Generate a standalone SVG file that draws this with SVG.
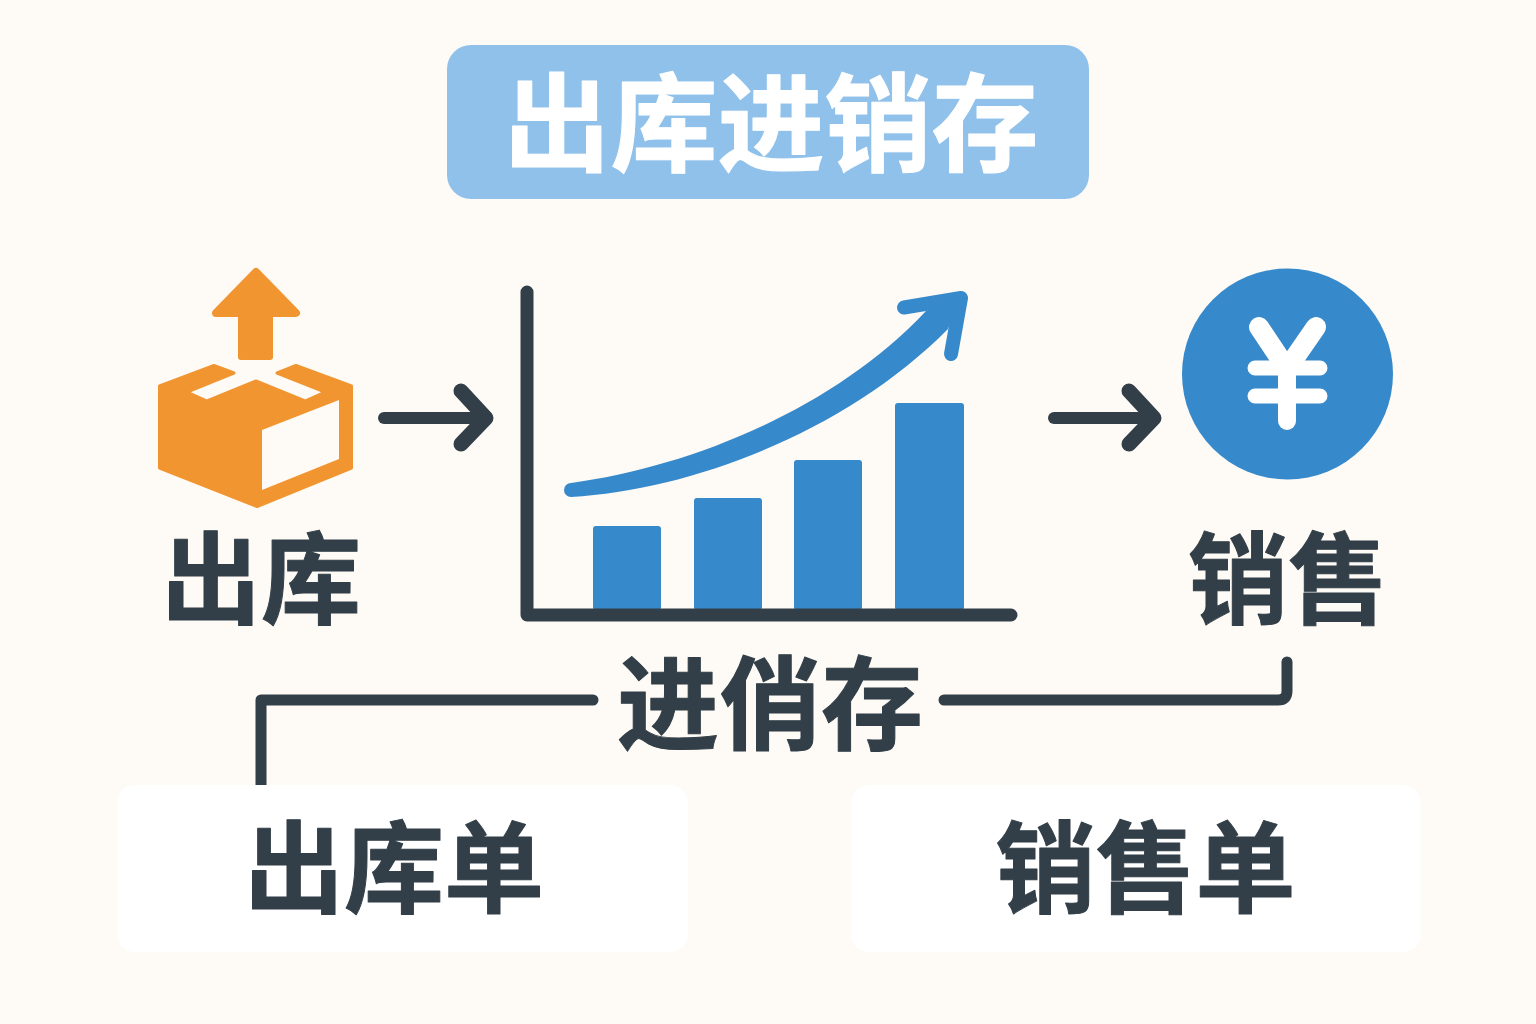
<svg xmlns="http://www.w3.org/2000/svg" width="1536" height="1024" viewBox="0 0 1536 1024">
<style>
text{font-family:"Noto Sans CJK SC","Noto Sans",sans-serif;font-weight:700;fill:#323f48;stroke:#323f48;stroke-width:1;stroke-linejoin:round;text-anchor:middle}
.blue{fill:#3689cb}
.orange{fill:#f19531;stroke:#f19531;stroke-linejoin:round}
.line{fill:none;stroke:#323f48;stroke-linecap:round;stroke-linejoin:round}
.card{fill:#fff}
.yen{fill:none;stroke:#fff;stroke-linecap:round;stroke-linejoin:miter}
</style>
<rect width="1536" height="1024" fill="#fefaf5"/>
<g id="title"><rect x="447" y="45" width="642" height="154" rx="24" fill="#90c1ea"/><text x="771" y="163" font-size="107" style="fill:#fff;stroke:#fff">出库进销存</text></g>
<g id="connectors">
<path class="line" stroke-width="12" d="M384 418H484"/>
<path class="line" stroke-width="15" d="M461 391L486 418L461 444"/>
<path class="line" stroke-width="12" d="M1054 418H1152"/>
<path class="line" stroke-width="15" d="M1129 391L1154 418L1129 444"/>
<path class="line" stroke-width="11" d="M593 700H261V790"/>
<path class="line" stroke-width="11" d="M944 700H1278Q1287 700 1287 691V662"/>
</g>
<g id="chuku">
<path class="orange" stroke-width="8" d="M256 272L296 313H216Z"/>
<rect x="238" y="310" width="35" height="50" rx="3" fill="#f19531"/>
<path class="orange" stroke-width="3" d="M159.500 386L214 365.500L234 373L187 392L207 401L256 381L305 401L325 392L277 373L296 365.500L351.500 386V468L257 506.500L159.500 468Z"/>
<path d="M262 430L339 400V459L262 490Z" fill="#fefaf5"/>
<text x="261" y="616" font-size="100">出库</text>
</g>
<g id="chart">
<rect class="blue" x="593" y="526" width="68" height="84" rx="3"/>
<rect class="blue" x="694" y="498" width="68" height="112" rx="3"/>
<rect class="blue" x="794" y="460" width="68" height="150" rx="3"/>
<rect class="blue" x="895" y="403" width="69" height="207" rx="3"/>
<path class="blue" d="M571 483C689 467 833 410 926 311L960 297L948 329C848 430 694 490 571 497A7 7 0 0 1 571 483Z"/>
<path d="M904 307.500L961 298L951 354" fill="none" stroke="#3689cb" stroke-width="14" stroke-linecap="round" stroke-linejoin="round"/>
<path class="line" stroke-width="13" d="M527 292V615H1011"/>
</g>
<g id="xiaoshou">
<circle class="blue" cx="1287.500" cy="374" r="105.500"/>
<path class="yen" stroke-width="20" d="M1259 327L1287 369L1316 327"/>
<path class="yen" stroke-width="18" d="M1287 369V421"/>
<path class="yen" stroke-width="15" d="M1255 368H1320M1255 396H1320"/>
<text x="1288" y="616" font-size="100">销售</text>
</g>
<g id="jinxiaocun"><text x="770" y="742" font-size="102">进俏存</text></g>
<g id="chukudan"><rect class="card" x="117" y="785" width="571" height="167" rx="18"/><text x="394" y="905" font-size="100">出库单</text></g>
<g id="xiaoshoudan"><rect class="card" x="851" y="785" width="570" height="167" rx="18"/><text x="1145.500" y="905" font-size="100">销售单</text></g>
</svg>
